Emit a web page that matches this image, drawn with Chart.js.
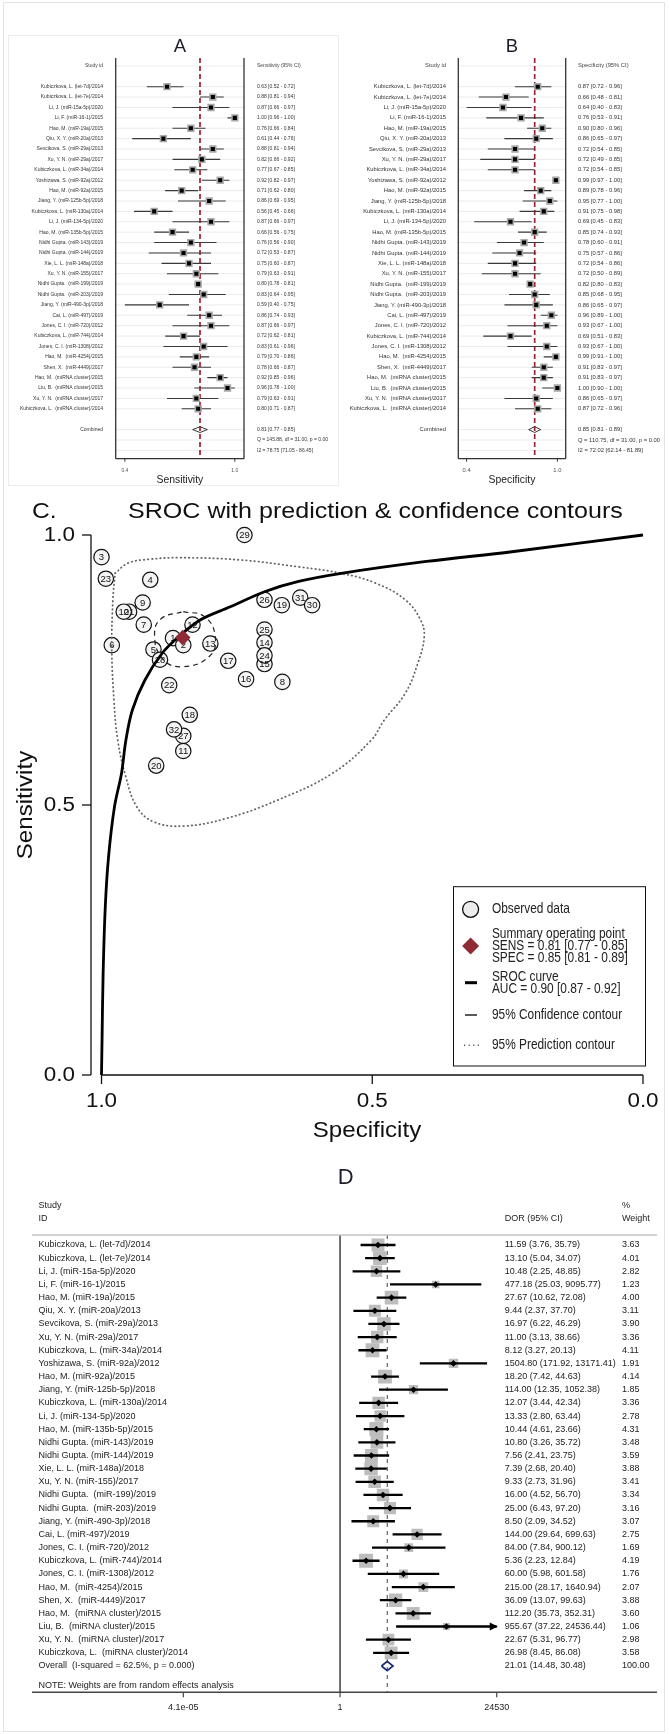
<!DOCTYPE html>
<html>
<head>
<meta charset="utf-8">
<script src="https://cdn.jsdelivr.net/npm/chart.js"></script>
<style>
html, body { margin: 0; padding: 0; background: #fff; }
#page { position: relative; width: 669px; height: 1734px; overflow: hidden; background: #fff; }
#page canvas { position: absolute; }
.frame { position: absolute; box-sizing: border-box; }
</style>
</head>
<body>
<div id="page">
  <div class="frame" style="left:3px;top:2px;width:662px;height:1730px;border:1.5px solid #e3e3e3"></div>
  <div class="frame" style="left:8px;top:35px;width:331px;height:451px;border:1px solid #ececec"></div>
  <canvas id="sensPlot" style="left:0;top:30px" width="335" height="460"></canvas>
  <canvas id="specPlot" style="left:335px;top:30px" width="334" height="460"></canvas>
  <canvas id="srocPlot" style="left:0;top:490px" width="669" height="660"></canvas>
  <canvas id="dorPlot" style="left:0;top:1150px" width="669" height="584"></canvas>
</div>
<script>
// ---------- data ----------
var studies = [
  "Kubiczkova, L. (let-7d)/2014", "Kubiczkova, L. (let-7e)/2014", "Li, J. (miR-15a-5p)/2020",
  "Li, F. (miR-16-1)/2015", "Hao, M. (miR-19a)/2015", "Qiu, X. Y. (miR-20a)/2013",
  "Sevcikova, S. (miR-29a)/2013", "Xu, Y. N. (miR-29a)/2017", "Kubiczkova, L. (miR-34a)/2014",
  "Yoshizawa, S. (miR-92a)/2012", "Hao, M. (miR-92a)/2015", "Jiang, Y. (miR-125b-5p)/2018",
  "Kubiczkova, L. (miR-130a)/2014", "Li, J. (miR-134-5p)/2020", "Hao, M. (miR-135b-5p)/2015",
  "Nidhi Gupta. (miR-143)/2019", "Nidhi Gupta. (miR-144)/2019", "Xie, L. L. (miR-148a)/2018",
  "Xu, Y. N. (miR-155)/2017", "Nidhi Gupta.  (miR-199)/2019", "Nidhi Gupta.  (miR-203)/2019",
  "Jiang, Y. (miR-490-3p)/2018", "Cai, L. (miR-497)/2019", "Jones, C. I. (miR-720)/2012",
  "Kubiczkova, L. (miR-744)/2014", "Jones, C. I. (miR-1308)/2012", "Hao, M.  (miR-4254)/2015",
  "Shen, X.  (miR-4449)/2017", "Hao, M.  (miRNA cluster)/2015", "Liu, B.  (miRNA cluster)/2015",
  "Xu, Y. N.  (miRNA cluster)/2017", "Kubiczkova, L.  (miRNA cluster)/2014"
];

// panel A - sensitivity
var sensEst = [0.63,0.88,0.87,1.00,0.76,0.61,0.88,0.82,0.77,0.92,0.71,0.86,0.56,0.87,0.66,0.76,0.72,0.75,0.79,0.80,0.83,0.59,0.86,0.87,0.72,0.83,0.79,0.78,0.92,0.96,0.79,0.80];
var sensLo  = [0.52,0.81,0.66,0.96,0.66,0.44,0.81,0.66,0.67,0.82,0.62,0.69,0.45,0.66,0.56,0.56,0.53,0.60,0.63,0.78,0.64,0.40,0.74,0.66,0.62,0.61,0.70,0.66,0.85,0.78,0.63,0.71];
var sensHi  = [0.72,0.94,0.97,1.00,0.84,0.76,0.94,0.92,0.85,0.97,0.80,0.95,0.66,0.97,0.75,0.90,0.87,0.87,0.91,0.81,0.95,0.75,0.93,0.97,0.81,0.96,0.86,0.87,0.96,1.00,0.91,0.87];
var sensPooled = [0.81, 0.77, 0.85];
var sensHet = ["Q = 145.88, df = 31.00, p = 0.00", "I2 = 78.75 [71.05 - 86.45]"];

// panel B - specificity
var specEst = [0.87,0.66,0.64,0.76,0.90,0.86,0.72,0.72,0.72,0.99,0.89,0.95,0.91,0.69,0.85,0.78,0.75,0.72,0.72,0.82,0.85,0.86,0.96,0.93,0.69,0.93,0.99,0.91,0.91,1.00,0.86,0.87];
var specLo  = [0.72,0.48,0.40,0.53,0.80,0.65,0.54,0.49,0.54,0.97,0.78,0.77,0.75,0.45,0.74,0.60,0.57,0.54,0.50,0.80,0.68,0.65,0.89,0.67,0.51,0.67,0.91,0.83,0.83,0.90,0.65,0.72];
var specHi  = [0.96,0.81,0.83,0.91,0.96,0.97,0.85,0.85,0.85,1.00,0.96,1.00,0.98,0.83,0.93,0.91,0.86,0.86,0.89,0.83,0.95,0.97,1.00,1.00,0.83,1.00,1.00,0.97,0.97,1.00,0.97,0.96];
var specPooled = [0.85, 0.81, 0.89];
var specHet = ["Q = 110.75, df = 31.00, p = 0.00", "I2 = 72.02 [62.14 - 81.89]"];
var abTicks = [0.4, 1.0];

// panel C - SROC
var srocIds  = [29,3,23,4,9,21,10,7,6,12,1,2,5,13,28,17,22,16,8,26,19,31,30,25,14,15,24,18,27,32,11,20];
var srocSpec = [0.736,1.000,0.992,0.910,0.924,0.949,0.959,0.922,0.981,0.832,0.868,0.849,0.904,0.799,0.892,0.766,0.875,0.733,0.666,0.699,0.667,0.633,0.611,0.699,0.699,0.699,0.699,0.837,0.849,0.866,0.849,0.899];
var srocSens = [1.000,0.959,0.919,0.917,0.875,0.858,0.858,0.834,0.796,0.834,0.809,0.796,0.788,0.799,0.769,0.767,0.722,0.733,0.728,0.880,0.870,0.884,0.870,0.825,0.801,0.761,0.777,0.667,0.628,0.640,0.600,0.573];
var summaryPoint = [0.85, 0.81];   // spec, sens
var curveSpec = [1.000,0.999,0.997,0.993,0.987,0.976,0.963,0.955,0.943,0.920,0.888,0.857,0.817,0.762,0.699,0.636,0.557,0.400,0.242,0.000];
var curveSens = [0.000,0.065,0.188,0.312,0.404,0.497,0.559,0.620,0.676,0.731,0.781,0.812,0.843,0.867,0.895,0.914,0.929,0.951,0.969,1.000];
var confSpec = [0.849,0.810,0.790,0.801,0.853,0.888,0.902,0.890,0.849];
var confSens = [0.858,0.849,0.812,0.775,0.756,0.772,0.815,0.845,0.858];
var predSpec = [0.975,0.951,0.912,0.857,0.746,0.636,0.557,0.494,0.439,0.411,0.404,0.416,0.439,0.478,0.502,0.573,0.675,0.770,0.849,0.904,0.935,0.955,0.970,0.977,0.981,0.979,0.975];
var predSens = [0.929,0.948,0.955,0.958,0.954,0.941,0.929,0.911,0.880,0.843,0.812,0.762,0.707,0.657,0.620,0.559,0.509,0.475,0.461,0.469,0.497,0.552,0.620,0.694,0.787,0.880,0.929];
var srocTicks = [1.0, 0.5, 0.0];
var legendSens = "SENS = 0.81 [0.77 - 0.85]";
var legendSpec = "SPEC = 0.85 [0.81 - 0.89]";
var legendAuc = "AUC = 0.90 [0.87 - 0.92]";

// panel D - diagnostic odds ratio
var dorEst = [11.59,13.10,10.48,477.18,27.67,9.44,16.97,11.00,8.12,1504.80,18.20,114.00,12.07,13.33,10.44,10.80,7.56,7.39,9.33,16.00,25.00,8.50,144.00,84.00,5.36,60.00,215.00,36.09,112.20,955.67,22.67,26.98];
var dorLo  = [3.76,5.04,2.25,25.03,10.62,2.37,6.22,3.13,3.27,171.92,7.42,12.35,3.44,2.80,4.61,3.26,2.41,2.68,2.73,4.52,6.43,2.09,29.64,7.84,2.23,5.98,28.17,13.07,35.73,37.22,5.31,8.45];
var dorHi  = [35.79,34.07,48.85,9095.77,72.08,37.70,46.29,38.66,20.13,13171.41,44.63,1052.38,42.34,63.44,23.66,35.72,23.75,20.40,31.96,56.70,97.20,34.52,699.63,900.12,12.84,601.58,1640.94,99.63,352.31,24536.44,96.77,86.08];
var dorWeight = [3.63,4.01,2.82,1.23,4.00,3.11,3.90,3.36,4.11,1.91,4.14,1.85,3.36,2.78,4.31,3.48,3.59,3.88,3.41,3.34,3.16,3.07,2.75,1.69,4.19,1.76,2.07,3.88,3.60,1.06,2.98,3.58];
var dorOverall = [21.01, 14.48, 30.48];
var overallLabel = "Overall  (I-squared = 62.5%, p = 0.000)";
var dorTicks = [1 / 24530, 1, 24530];

// ---------- helpers ----------
var FONT = '"Liberation Sans", Arial, sans-serif';

function txt(ctx, s, x, y, size, o) {
  o = o || {};
  ctx.save();
  ctx.font = size + 'px ' + FONT;
  ctx.fillStyle = o.color || '#222';
  ctx.textAlign = o.align || 'left';
  ctx.textBaseline = o.base || 'middle';
  ctx.translate(x, y);
  if (o.rot) ctx.rotate(o.rot);
  ctx.scale(o.sx || 1, 1);
  ctx.fillText(s, 0, 0);
  ctx.restore();
}

function seg(ctx, x1, y1, x2, y2, color, w, dash) {
  ctx.save();
  ctx.strokeStyle = color;
  ctx.lineWidth = w;
  ctx.setLineDash(dash || []);
  ctx.beginPath();
  ctx.moveTo(x1, y1);
  ctx.lineTo(x2, y2);
  ctx.stroke();
  ctx.restore();
}

function f2(v) { return v.toFixed(2); }

var baseOptions = function (pad, xScale, yScale) {
  return {
    responsive: false,
    animation: false,
    events: [],
    layout: { padding: pad },
    plugins: { legend: { display: false }, tooltip: { enabled: false } },
    scales: { x: xScale, y: yScale }
  };
};

// ---------- panels A and B ----------
function forestAB(id, est, lo, hi, pooled, het, o) {
  var n = est.length, comb = n + 1;
  var yMin = -2.76, yMax = 35.8;
  var pts = [], ci = [];
  for (var i = 0; i < n; i++) {
    pts.push({ x: est[i], y: i });
    ci.push({ x: lo[i], y: i }, { x: hi[i], y: i }, { x: NaN, y: NaN });
  }
  var dia = [{ x: pooled[1], y: comb }, { x: pooled[0], y: comb - 0.28 }, { x: pooled[2], y: comb },
             { x: pooled[0], y: comb + 0.28 }, { x: pooled[1], y: comb }];
  var ref = [{ x: pooled[0], y: yMin }, { x: pooled[0], y: yMax }];

  return new Chart(document.getElementById(id), {
    type: 'scatter',
    data: {
      datasets: [
        { data: pts, pointStyle: 'rect', pointRadius: 2.9, backgroundColor: '#000', borderWidth: 0 },
        { data: pts, pointStyle: 'rect', pointRadius: 5.2, backgroundColor: '#a8a8a8', borderWidth: 0 },
        { data: ci, showLine: true, pointRadius: 0, borderColor: '#3a3a3a', borderWidth: 1.1 },
        { data: dia, showLine: true, pointRadius: 0, borderColor: '#222', borderWidth: 0.9 },
        { data: ref, showLine: true, pointRadius: 0, borderColor: '#a3202e', borderWidth: 1.7, borderDash: [5, 3] }
      ]
    },
    options: baseOptions(o.pad,
      { type: 'linear', min: o.xmin, max: o.xmax, display: false },
      { type: 'linear', min: yMin, max: yMax, reverse: true, display: false }),
    plugins: [{
      id: 'abDecor',
      beforeDatasetsDraw: function (chart) {
        var ctx = chart.ctx, ca = chart.chartArea, ys = chart.scales.y;
        var rows = [-2, comb, comb + 1, comb + 2];
        for (var r = 0; r < n; r++) rows.push(r);
        rows.forEach(function (r) {
          var y = ys.getPixelForValue(r);
          seg(ctx, ca.left, y, ca.right, y, '#ebebeb', 1);
        });
      },
      afterDraw: function (chart) {
        var ctx = chart.ctx, ca = chart.chartArea, xs = chart.scales.x, ys = chart.scales.y;
        var mid = (ca.left + ca.right) / 2;
        // frame
        seg(ctx, ca.left, ca.top, ca.left, ca.bottom, '#333', 1.3);
        seg(ctx, ca.right, ca.top, ca.right, ca.bottom, '#333', 1.3);
        seg(ctx, ca.left, ca.bottom, ca.right, ca.bottom, '#333', 1.3);
        abTicks.forEach(function (t) {
          var x = xs.getPixelForValue(t);
          seg(ctx, x, ca.bottom, x, ca.bottom + 3, '#333', 1);
          txt(ctx, t.toFixed(1), x, ca.bottom + 12, o.fs, { align: 'center', color: '#555' });
        });
        txt(ctx, o.axisTitle, mid, ca.bottom + 21, 10.4, { align: 'center', color: '#222' });
        txt(ctx, o.title, mid, 17, 18.5, { align: 'center', color: '#1d1d2b' });
        // columns
        txt(ctx, 'Study id', o.labelX, ys.getPixelForValue(-2), o.fs, { align: 'right', color: '#444' });
        txt(ctx, o.colTitle, o.valueX, ys.getPixelForValue(-2), o.fs, { color: '#444' });
        for (var i = 0; i < n; i++) {
          var y = ys.getPixelForValue(i);
          txt(ctx, studies[i], o.labelX, y, o.fs, { align: 'right', color: '#333' });
          txt(ctx, f2(est[i]) + ' [' + f2(lo[i]) + ' - ' + f2(hi[i]) + ']', o.valueX, y, o.fs, { color: '#333' });
        }
        txt(ctx, 'Combined', o.labelX, ys.getPixelForValue(comb), o.fs, { align: 'right', color: '#333' });
        txt(ctx, f2(pooled[0]) + ' [' + f2(pooled[1]) + ' - ' + f2(pooled[2]) + ']', o.valueX, ys.getPixelForValue(comb), o.fs, { color: '#333' });
        txt(ctx, het[0], o.valueX, ys.getPixelForValue(comb + 1), o.fs, { color: '#333' });
        txt(ctx, het[1], o.valueX, ys.getPixelForValue(comb + 2), o.fs, { color: '#333' });
      }
    }]
  });
}

forestAB('sensPlot', sensEst, sensLo, sensHi, sensPooled, sensHet, {
  pad: { left: 115.7, right: 91, top: 28, bottom: 31.3 },
  xmin: 0.35, xmax: 1.05, title: 'A', axisTitle: 'Sensitivity', colTitle: 'Sensitivity (95% CI)',
  labelX: 103, valueX: 257, fs: 5
});
forestAB('specPlot', specEst, specLo, specHi, specPooled, specHet, {
  pad: { left: 123.3, right: 103.3, top: 28, bottom: 31.3 },
  xmin: 0.345, xmax: 1.055, title: 'B', axisTitle: 'Specificity', colTitle: 'Specificity (95% CI)',
  labelX: 111, valueX: 243, fs: 5.8
});

// ---------- panel C ----------
function xy(xs, ys) { return xs.map(function (v, i) { return { x: v, y: ys[i] }; }); }

var srocTop = 490;   // canvas top on the page
new Chart(document.getElementById('srocPlot'), {
  type: 'scatter',
  data: {
    datasets: [
      { data: [{ x: summaryPoint[0], y: summaryPoint[1] }], pointStyle: 'rectRot', pointRadius: 7.8,
        backgroundColor: '#8f2b35', borderColor: '#8f2b35', borderWidth: 0, clip: false },
      { data: xy(curveSpec, curveSens), showLine: true, pointRadius: 0, borderColor: '#000', borderWidth: 2.8,
        tension: 0.35, clip: false },
      { data: xy(confSpec, confSens), showLine: true, pointRadius: 0, borderColor: '#222', borderWidth: 1.2,
        borderDash: [5, 4], tension: 0.45 },
      { data: xy(predSpec, predSens), showLine: true, pointRadius: 0, borderColor: '#666', borderWidth: 1.8,
        borderDash: [0.5, 3.6], borderCapStyle: 'round', tension: 0.4 },
      { data: xy(srocSpec, srocSens), pointStyle: 'circle', pointRadius: 7.7, backgroundColor: '#f4f4f4',
        borderColor: '#111', borderWidth: 1.2, clip: false }
    ]
  },
  options: baseOptions({ left: 91, right: 26, top: 45, bottom: 75 },
    { type: 'linear', min: 0, max: 1.0194, reverse: true, display: false },
    { type: 'linear', min: 0, max: 1, display: false }),
  plugins: [{
    id: 'srocDecor',
    afterDatasetDraw: function (chart, args) {
      if (args.index !== 4) return;
      var ctx = chart.ctx;
      args.meta.data.forEach(function (el, i) {
        txt(ctx, String(srocIds[i]), el.x, el.y + 0.5, 9.5, { align: 'center', color: '#111' });
      });
    },
    afterDraw: function (chart) {
      var ctx = chart.ctx, ca = chart.chartArea, xs = chart.scales.x, ys = chart.scales.y;
      // axes
      seg(ctx, ca.left, ys.getPixelForValue(1), ca.left, ys.getPixelForValue(0), '#111', 1.3);
      seg(ctx, xs.getPixelForValue(1), ca.bottom, xs.getPixelForValue(0), ca.bottom, '#111', 1.3);
      srocTicks.forEach(function (t) {
        var y = ys.getPixelForValue(t);
        seg(ctx, ca.left - 9, y, ca.left, y, '#111', 1.3);
        txt(ctx, t.toFixed(1), ca.left - 16, y, 20, { align: 'right', sx: 1.12, color: '#111' });
        var x = xs.getPixelForValue(t);
        seg(ctx, x, ca.bottom, x, ca.bottom + 9, '#111', 1.3);
        txt(ctx, t.toFixed(1), x, 1107 - srocTop, 20, { align: 'center', base: 'alphabetic', sx: 1.12, color: '#111' });
      });
      txt(ctx, 'Specificity', (ca.left + ca.right) / 2, 1137 - srocTop, 21.5, { align: 'center', base: 'alphabetic', sx: 1.12, color: '#111' });
      txt(ctx, 'Sensitivity', 26.5, (ca.top + ca.bottom) / 2, 21.5, { align: 'center', rot: -Math.PI / 2, sx: 1.12, color: '#111' });
      // title
      txt(ctx, 'C.', 32, 518 - srocTop, 22, { base: 'alphabetic', sx: 1.12, color: '#111' });
      txt(ctx, 'SROC with prediction & confidence contours', 128, 518 - srocTop, 22, { base: 'alphabetic', sx: 1.14, color: '#111' });

      // legend
      var L = 453.5, T = 886.7 - srocTop, R = 645.5, B = 1066 - srocTop;
      ctx.save();
      ctx.strokeStyle = '#111';
      ctx.lineWidth = 1;
      ctx.strokeRect(L, T, R - L, B - T);
      ctx.restore();
      var sx = 0.82, fs = 14.5, tx = 491.9, sym = 470.6;
      var yy = function (py) { return py - srocTop; };
      ctx.save();
      ctx.beginPath();
      ctx.arc(sym, yy(909.3), 8, 0, Math.PI * 2);
      ctx.fillStyle = '#ececec';
      ctx.fill();
      ctx.strokeStyle = '#111';
      ctx.lineWidth = 1.3;
      ctx.stroke();
      ctx.beginPath();
      ctx.moveTo(sym, yy(946) - 8.5);
      ctx.lineTo(sym + 8.5, yy(946));
      ctx.lineTo(sym, yy(946) + 8.5);
      ctx.lineTo(sym - 8.5, yy(946));
      ctx.closePath();
      ctx.fillStyle = '#8f2b35';
      ctx.fill();
      ctx.restore();
      seg(ctx, 465, yy(982.7), 477, yy(982.7), '#000', 3);
      seg(ctx, 465, yy(1015), 477, yy(1015), '#222', 1.5);
      seg(ctx, 464, yy(1045.3), 479, yy(1045.3), '#555', 1.6, [1.2, 3.4]);
      txt(ctx, 'Observed data', tx, yy(909.3), fs, { sx: sx });
      txt(ctx, 'Summary operating point', tx, yy(934.3), fs, { sx: sx });
      txt(ctx, legendSens, tx, yy(946.3), fs, { sx: sx });
      txt(ctx, legendSpec, tx, yy(958.3), fs, { sx: sx });
      txt(ctx, 'SROC curve', tx, yy(977.3), fs, { sx: sx });
      txt(ctx, legendAuc, tx, yy(989.3), fs, { sx: sx });
      txt(ctx, '95% Confidence contour', tx, yy(1015), fs, { sx: sx });
      txt(ctx, '95% Prediction contour', tx, yy(1045.3), fs, { sx: sx });
    }
  }]
});

// ---------- panel D ----------
var dorTop = 1150;
var nD = dorEst.length, overallRow = nD, ciCap = dorTicks[2];
var dorPts = [], dorCi = [];
for (var k = 0; k < nD; k++) {
  dorPts.push({ x: dorEst[k], y: k });
  dorCi.push({ x: dorLo[k], y: k }, { x: Math.min(dorHi[k], ciCap), y: k }, { x: NaN, y: NaN });
}
var dorDia = [
  { x: dorOverall[1], y: overallRow }, { x: dorOverall[0], y: overallRow - 0.36 },
  { x: dorOverall[2], y: overallRow }, { x: dorOverall[0], y: overallRow + 0.36 },
  { x: dorOverall[1], y: overallRow }
];
var dYMin = -0.76, dYMax = 34.0;

new Chart(document.getElementById('dorPlot'), {
  type: 'scatter',
  data: {
    datasets: [
      { data: dorDia, showLine: true, pointRadius: 0, borderColor: '#1c2a6e', borderWidth: 1.7 },
      { data: dorPts, pointStyle: 'rectRot', pointRadius: 3.3, backgroundColor: '#000', borderWidth: 0 },
      { data: dorCi, showLine: true, pointRadius: 0, borderColor: '#000', borderWidth: 2.3 },
      { data: dorPts, pointStyle: 'rect', backgroundColor: '#bdbdbd', borderWidth: 0,
        pointRadius: dorWeight.map(function (w) { return 6.8 * Math.sqrt(w) / Math.SQRT2; }) },
      { data: [{ x: dorOverall[0], y: dYMin }, { x: dorOverall[0], y: dYMax }], showLine: true, pointRadius: 0,
        borderColor: '#444', borderWidth: 1, borderDash: [4, 4] },
      { data: [{ x: 1, y: dYMin }, { x: 1, y: dYMax }], showLine: true, pointRadius: 0,
        borderColor: '#111', borderWidth: 1.2 }
    ]
  },
  options: baseOptions({ left: 32, right: 12, top: 85, bottom: 41.7 },
    { type: 'logarithmic', min: Math.pow(10, -8.63), max: Math.pow(10, 8.88), display: false },
    { type: 'linear', min: dYMin, max: dYMax, reverse: true, display: false }),
  plugins: [{
    id: 'dorDecor',
    afterDraw: function (chart) {
      var ctx = chart.ctx, ca = chart.chartArea, xs = chart.scales.x, ys = chart.scales.y;
      var fs = 9, cLab = 38.4, cDor = 504.7, cW = 622;
      seg(ctx, ca.left, ca.top, ca.right, ca.top, '#c4c4c4', 1.6);
      seg(ctx, ca.left, ca.bottom, ca.right, ca.bottom, '#444', 1.4);
      dorTicks.forEach(function (t) {
        var x = xs.getPixelForValue(t);
        seg(ctx, x, ca.bottom, x, ca.bottom + 5, '#444', 1.2);
        var s = t < 1 ? t.toExponential(1).replace(/e-(\d)$/, 'e-0$1') : String(t);
        txt(ctx, s, x, 1710 - dorTop, fs, { align: 'center', base: 'alphabetic' });
      });
      // arrow where the interval runs past the axis
      for (var i = 0; i < nD; i++) {
        if (dorHi[i] > ciCap) {
          var ax = xs.getPixelForValue(ciCap), ay = ys.getPixelForValue(i);
          ctx.save();
          ctx.beginPath();
          ctx.moveTo(ax + 1, ay);
          ctx.lineTo(ax - 7, ay - 4);
          ctx.lineTo(ax - 7, ay + 4);
          ctx.closePath();
          ctx.fillStyle = '#000';
          ctx.fill();
          ctx.restore();
        }
      }
      txt(ctx, 'D', 345.6, 1183.5 - dorTop, 22, { align: 'center', base: 'alphabetic', color: '#1d1d2b' });
      txt(ctx, 'Study', cLab, ys.getPixelForValue(-3), fs);
      txt(ctx, 'ID', cLab, ys.getPixelForValue(-2), fs);
      txt(ctx, 'DOR (95% CI)', cDor, ys.getPixelForValue(-2), fs);
      txt(ctx, '%', cW, ys.getPixelForValue(-3), fs);
      txt(ctx, 'Weight', cW, ys.getPixelForValue(-2), fs);
      for (var j = 0; j < nD; j++) {
        var y = ys.getPixelForValue(j);
        txt(ctx, studies[j], cLab, y, fs);
        txt(ctx, f2(dorEst[j]) + ' (' + f2(dorLo[j]) + ', ' + f2(dorHi[j]) + ')', cDor, y, fs);
        txt(ctx, f2(dorWeight[j]), cW, y, fs);
      }
      var yo = ys.getPixelForValue(overallRow);
      txt(ctx, overallLabel, cLab, yo, fs);
      txt(ctx, f2(dorOverall[0]) + ' (' + f2(dorOverall[1]) + ', ' + f2(dorOverall[2]) + ')', cDor, yo, fs);
      txt(ctx, '100.00', cW, yo, fs);
      txt(ctx, 'NOTE: Weights are from random effects analysis', cLab, ys.getPixelForValue(overallRow + 1.5), fs);
    }
  }]
});
</script>
</body>
</html>
